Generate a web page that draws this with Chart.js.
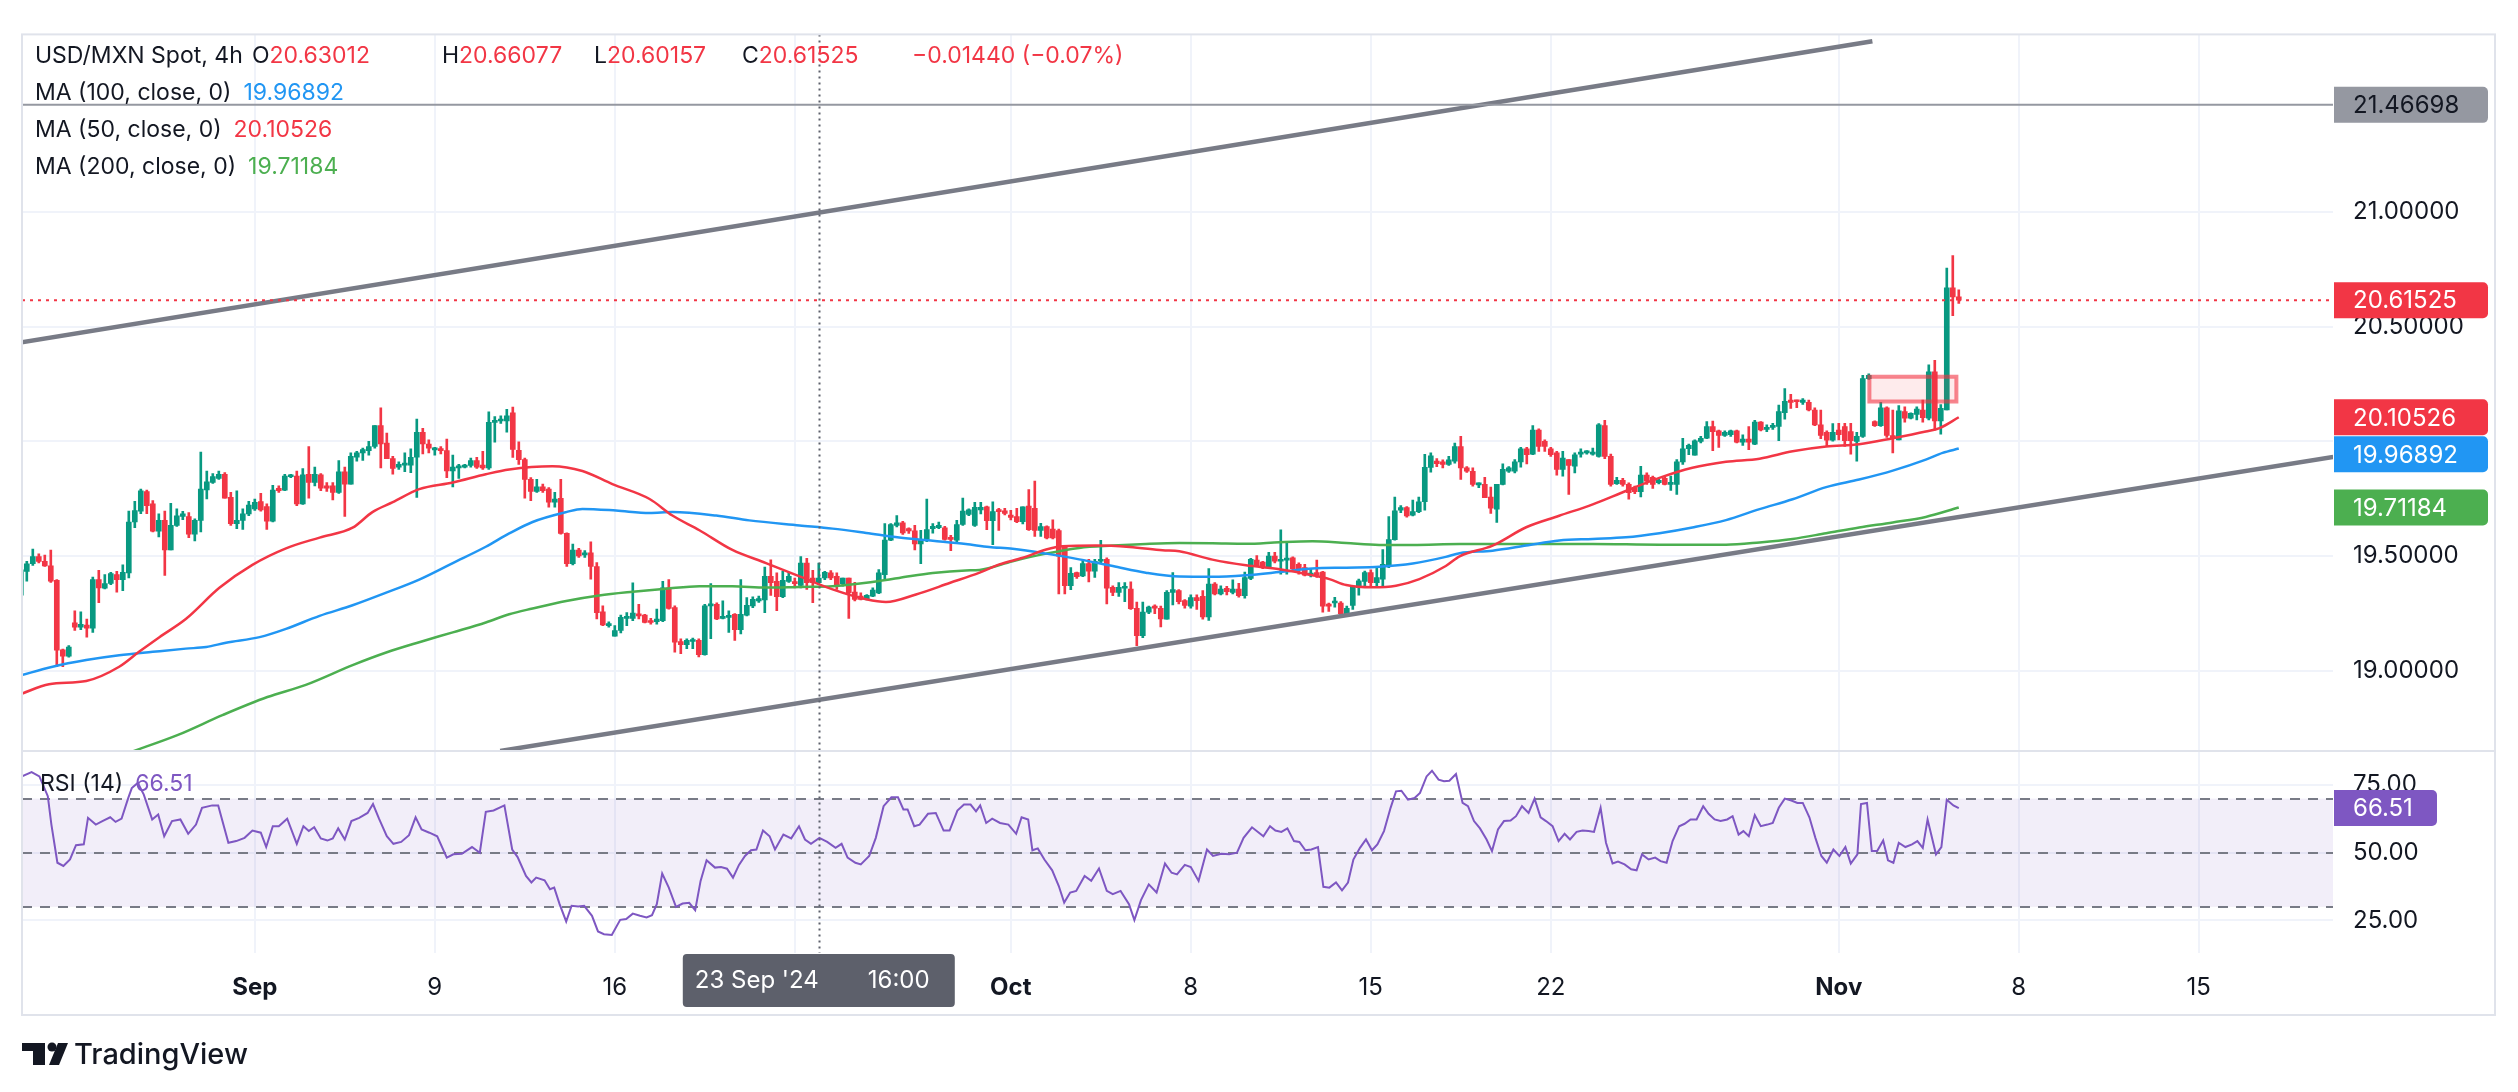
<!DOCTYPE html>
<html>
<head>
<meta charset="utf-8">
<script src="https://cdn.jsdelivr.net/npm/chart.js@4.4.1/dist/chart.umd.min.js"></script>
<style>
  html, body { margin: 0; padding: 0; background: #ffffff; }
  #wrap { position: relative; width: 2518px; height: 1092px; }
  canvas { display: block; }
</style>
</head>
<body>
<div id="wrap"><canvas id="chart" width="2518" height="1092"></canvas></div>
<script>
// USD/MXN 4h candles, bar index 0 = Mon 2 Sep 2024 00:00 (weekends skipped, 6 bars a day)
const firstBar = -39;

const openP = [
  19.33,19.434,19.467,19.498,19.477,19.458,19.395,19.092,19.064,19.209,
  19.19,19.20,19.186,19.398,19.36,19.381,19.42,19.398,19.427,19.649,
  19.696,19.782,19.728,19.609,19.656,19.527,19.634,19.673,19.673,19.596,
  19.656,19.789,19.821,19.839,19.857,19.756,19.642,19.656,19.684,19.706,
  19.738,19.716,19.653,19.796,19.788,19.846,19.849,19.728,19.857,19.821,
  19.854,19.806,19.806,19.778,19.868,19.814,19.931,19.95,19.96,19.978,
  20.069,19.993,19.925,19.888,19.897,19.897,19.931,20.04,19.989,19.963,
  19.968,19.96,19.871,19.885,19.888,19.895,19.917,19.897,19.885,20.083,
  20.089,20.089,20.125,19.961,19.921,19.835,19.782,19.802,19.792,19.735,
  19.752,19.599,19.467,19.527,19.505,19.515,19.455,19.257,19.197,19.151,
  19.176,19.229,19.229,19.247,19.243,19.219,19.214,19.219,19.362,19.276,
  19.128,19.114,19.128,19.133,19.071,19.283,19.29,19.229,19.233,19.247,
  19.18,19.243,19.283,19.305,19.309,19.412,19.39,19.323,19.39,19.386,
  19.372,19.47,19.405,19.384,19.405,19.427,19.412,19.38,19.405,19.343,
  19.326,19.315,19.326,19.34,19.419,19.57,19.634,19.645,19.62,19.61,
  19.553,19.573,19.62,19.624,19.624,19.58,19.57,19.638,19.682,19.634,
  19.702,19.715,19.655,19.70,19.698,19.679,19.672,19.65,19.718,19.708,
  19.612,19.629,19.618,19.612,19.543,19.371,19.428,19.414,19.468,19.435,
  19.478,19.486,19.364,19.342,19.36,19.357,19.273,19.153,19.256,19.282,
  19.273,19.225,19.342,19.35,19.306,19.282,19.32,19.325,19.235,19.378,
  19.335,19.36,19.342,19.357,19.328,19.403,19.483,19.474,19.45,19.50,
  19.478,19.483,19.493,19.464,19.45,19.417,19.428,19.431,19.288,19.296,
  19.296,19.249,19.285,19.364,19.39,19.428,19.385,19.40,19.457,19.572,
  19.70,19.712,19.679,19.694,19.737,19.887,19.914,19.911,19.90,19.914,
  19.978,19.885,19.87,19.81,19.813,19.758,19.705,19.813,19.87,19.87,
  19.911,19.968,19.945,20.05,20.0,19.968,19.95,19.878,19.921,19.892,
  19.945,19.95,19.945,19.935,20.069,19.935,19.816,19.83,19.813,19.798,
  19.781,19.853,19.844,19.82,19.839,19.813,19.813,19.911,19.968,19.94,
  20.0,20.014,20.065,20.046,20.026,20.029,20.046,19.997,20.01,19.988,
  20.084,20.052,20.061,20.065,20.125,20.18,20.18,20.17,20.17,20.137,
  20.072,20.04,20.005,20.05,20.065,20.043,20.0,20.022,20.274,20.086,
  20.069,20.147,20.026,20.007,20.13,20.101,20.118,20.137,20.101,20.303,
  20.089,20.137,20.67,20.63012
];
const highP = [
  19.54,19.477,19.531,19.51,19.505,19.527,19.398,19.095,19.11,19.262,
  19.257,19.226,19.409,19.438,19.42,19.43,19.434,19.462,19.696,19.739,
  19.792,19.788,19.742,19.685,19.696,19.73,19.706,19.695,19.69,19.663,
  19.954,19.871,19.86,19.871,19.864,19.778,19.785,19.706,19.739,19.749,
  19.774,19.728,19.809,19.806,19.857,19.857,19.871,19.882,19.978,19.888,
  19.86,19.821,19.821,19.917,19.888,19.95,19.957,19.971,20.0,20.069,
  20.146,20.036,19.935,19.911,19.95,19.968,20.097,20.057,20.007,19.974,
  19.978,20.01,19.94,19.9,19.9,19.928,19.931,19.957,20.129,20.108,
  20.112,20.14,20.15,19.998,19.928,19.842,19.835,19.814,19.799,19.778,
  19.835,19.602,19.553,19.534,19.524,19.563,19.472,19.283,19.214,19.197,
  19.243,19.254,19.384,19.29,19.247,19.229,19.269,19.39,19.398,19.283,
  19.14,19.14,19.143,19.14,19.29,19.381,19.297,19.305,19.262,19.25,
  19.398,19.319,19.323,19.326,19.452,19.484,19.427,19.434,19.429,19.405,
  19.498,19.491,19.438,19.47,19.434,19.437,19.427,19.405,19.405,19.386,
  19.34,19.333,19.362,19.441,19.642,19.642,19.677,19.652,19.624,19.634,
  19.613,19.749,19.642,19.649,19.63,19.591,19.656,19.753,19.706,19.735,
  19.735,19.718,19.737,19.708,19.708,19.70,19.708,19.715,19.79,19.827,
  19.643,19.632,19.658,19.618,19.546,19.45,19.431,19.478,19.486,19.486,
  19.569,19.493,19.371,19.385,19.385,19.388,19.30,19.30,19.282,19.288,
  19.282,19.35,19.428,19.354,19.311,19.331,19.331,19.35,19.446,19.385,
  19.371,19.368,19.397,19.382,19.431,19.491,19.503,19.478,19.517,19.517,
  19.615,19.56,19.497,19.471,19.464,19.446,19.483,19.434,19.296,19.321,
  19.302,19.282,19.371,19.40,19.435,19.44,19.45,19.529,19.672,19.758,
  19.72,19.716,19.744,19.758,19.944,19.95,19.925,19.92,19.935,19.993,
  20.022,19.89,19.885,19.82,19.844,19.801,19.813,19.902,19.89,19.921,
  19.974,19.974,20.069,20.055,20.007,19.974,19.957,19.957,19.921,19.95,
  19.968,19.96,19.971,20.078,20.092,19.945,19.844,19.839,19.82,19.805,
  19.892,19.863,19.849,19.835,19.844,19.849,19.921,20.014,19.988,20.007,
  20.022,20.086,20.089,20.05,20.046,20.05,20.05,20.029,20.065,20.092,
  20.086,20.072,20.079,20.159,20.23,20.205,20.18,20.187,20.18,20.147,
  20.137,20.046,20.078,20.079,20.079,20.079,20.04,20.288,20.295,20.09,
  20.17,20.151,20.137,20.156,20.151,20.125,20.151,20.18,20.334,20.353,
  20.161,20.756,20.81,20.66077
];
const lowP = [
  19.31,19.391,19.46,19.47,19.455,19.386,19.018,19.018,19.06,19.176,
  19.18,19.147,19.168,19.297,19.357,19.376,19.343,19.35,19.405,19.624,
  19.685,19.685,19.606,19.584,19.416,19.527,19.63,19.659,19.581,19.566,
  19.606,19.749,19.817,19.835,19.753,19.634,19.62,19.616,19.677,19.699,
  19.696,19.616,19.649,19.778,19.785,19.842,19.72,19.725,19.753,19.806,
  19.785,19.782,19.745,19.773,19.673,19.814,19.914,19.917,19.94,19.971,
  19.885,19.925,19.857,19.878,19.868,19.864,19.756,19.946,19.95,19.94,
  19.946,19.842,19.802,19.839,19.885,19.888,19.882,19.878,19.878,19.997,
  20.079,20.04,19.93,19.90,19.753,19.742,19.778,19.778,19.713,19.713,
  19.596,19.455,19.462,19.495,19.495,19.40,19.226,19.197,19.19,19.151,
  19.166,19.197,19.219,19.226,19.209,19.204,19.204,19.214,19.269,19.082,
  19.075,19.097,19.097,19.061,19.068,19.14,19.223,19.226,19.168,19.133,
  19.161,19.24,19.276,19.298,19.254,19.329,19.262,19.319,19.386,19.362,
  19.362,19.355,19.297,19.376,19.398,19.398,19.355,19.369,19.229,19.305,
  19.309,19.309,19.323,19.337,19.398,19.567,19.627,19.595,19.599,19.527,
  19.467,19.563,19.60,19.62,19.57,19.524,19.563,19.634,19.677,19.63,
  19.684,19.615,19.55,19.612,19.68,19.658,19.646,19.64,19.612,19.586,
  19.586,19.575,19.575,19.335,19.335,19.354,19.403,19.411,19.388,19.407,
  19.468,19.292,19.328,19.325,19.302,19.268,19.11,19.145,19.249,19.249,
  19.192,19.225,19.288,19.292,19.273,19.273,19.268,19.225,19.22,19.331,
  19.331,19.331,19.335,19.321,19.317,19.397,19.454,19.446,19.446,19.471,
  19.421,19.421,19.44,19.421,19.414,19.41,19.407,19.256,19.259,19.278,
  19.245,19.239,19.268,19.33,19.364,19.37,19.371,19.371,19.45,19.57,
  19.69,19.67,19.675,19.69,19.70,19.866,19.89,19.885,19.895,19.905,
  19.835,19.865,19.805,19.798,19.755,19.686,19.647,19.81,19.865,19.863,
  19.888,19.902,19.942,19.957,19.957,19.935,19.853,19.849,19.769,19.863,
  19.931,19.945,19.94,19.931,19.925,19.805,19.813,19.805,19.748,19.772,
  19.758,19.813,19.795,19.815,19.81,19.787,19.769,19.90,19.942,19.94,
  19.993,20.012,19.96,19.974,20.022,20.022,19.993,19.983,19.964,19.986,
  20.046,20.043,20.052,20.003,20.097,20.144,20.147,20.161,20.133,20.069,
  20.012,19.978,20.001,20.007,19.978,19.945,19.914,20.017,20.27,20.065,
  20.065,20.017,19.95,20.007,20.084,20.098,20.094,20.084,20.094,20.05,
  20.032,20.137,20.548,20.60157
];
const closeP = [
  19.44,19.467,19.498,19.477,19.458,19.391,19.09,19.064,19.104,19.19,
  19.203,19.186,19.398,19.362,19.381,19.424,19.398,19.43,19.649,19.699,
  19.785,19.72,19.609,19.656,19.527,19.634,19.676,19.684,19.596,19.656,
  19.792,19.824,19.847,19.857,19.753,19.642,19.656,19.684,19.723,19.735,
  19.702,19.653,19.788,19.785,19.849,19.854,19.728,19.854,19.821,19.857,
  19.796,19.796,19.778,19.868,19.814,19.935,19.95,19.964,19.978,20.069,
  19.989,19.925,19.882,19.9,19.902,19.931,20.04,19.989,19.971,19.968,
  19.96,19.871,19.888,19.888,19.895,19.917,19.888,19.885,20.083,20.089,
  20.097,20.112,19.965,19.921,19.835,19.782,19.802,19.785,19.735,19.749,
  19.599,19.467,19.527,19.501,19.515,19.455,19.254,19.20,19.204,19.176,
  19.233,19.233,19.252,19.24,19.211,19.211,19.226,19.362,19.272,19.125,
  19.114,19.133,19.136,19.071,19.283,19.29,19.226,19.237,19.24,19.18,
  19.247,19.286,19.312,19.315,19.412,19.384,19.323,19.395,19.412,19.38,
  19.47,19.384,19.384,19.405,19.429,19.405,19.376,19.405,19.34,19.312,
  19.312,19.329,19.352,19.427,19.57,19.638,19.645,19.601,19.61,19.553,
  19.573,19.616,19.63,19.634,19.573,19.573,19.638,19.696,19.702,19.713,
  19.713,19.655,19.694,19.694,19.686,19.669,19.65,19.715,19.615,19.612,
  19.629,19.579,19.579,19.50,19.371,19.425,19.411,19.468,19.435,19.478,
  19.483,19.36,19.342,19.364,19.364,19.271,19.153,19.256,19.278,19.273,
  19.227,19.342,19.354,19.302,19.285,19.32,19.306,19.235,19.378,19.335,
  19.357,19.345,19.357,19.328,19.407,19.486,19.457,19.454,19.50,19.478,
  19.486,19.489,19.446,19.44,19.417,19.425,19.417,19.282,19.282,19.302,
  19.249,19.273,19.364,19.392,19.428,19.385,19.407,19.464,19.572,19.698,
  19.712,19.675,19.694,19.737,19.887,19.937,19.903,19.90,19.92,19.978,
  19.885,19.87,19.813,19.82,19.755,19.709,19.813,19.878,19.885,19.911,
  19.968,19.942,20.05,19.978,19.978,19.942,19.878,19.928,19.896,19.942,
  19.954,19.957,19.954,20.072,19.935,19.813,19.83,19.813,19.777,19.781,
  19.853,19.827,19.813,19.83,19.813,19.82,19.911,19.968,19.983,20.003,
  20.014,20.065,20.043,20.026,20.04,20.046,19.997,20.01,19.997,20.084,
  20.05,20.061,20.069,20.13,20.175,20.17,20.173,20.18,20.137,20.072,
  20.026,20.005,20.04,20.029,20.003,20.003,20.022,20.274,20.288,20.069,
  20.147,20.026,20.012,20.133,20.101,20.122,20.141,20.104,20.303,20.089,
  20.144,20.67,20.630,20.61525
];

// moving averages, [bar index, value]
const ma50Pts = [
  [-38.9,18.90],[-34.3,18.942],[-28.1,18.956],[-22.6,19.018],[-19.3,19.083],[-15.9,19.147],[-11.5,19.226],
  [-5.9,19.362],[-0.4,19.462],[5.2,19.534],[10.8,19.581],[16.3,19.624],[19.6,19.692],[23,19.735],[27.4,19.792],
  [33,19.821],[38.5,19.857],[42.4,19.878],[49.6,19.892],[54.6,19.871],[59.6,19.814],[65.8,19.749],[69.6,19.677],
  [74.1,19.613],[79.6,19.527],[85.2,19.47],[90.8,19.412],[96.3,19.355],[101.9,19.312],[105.2,19.30],[110.2,19.333],
  [115.8,19.383],[120.8,19.428],[124.1,19.464],[128,19.493],[131.9,19.529],[134.6,19.543],[140.2,19.546],
  [145.8,19.54],[151.3,19.526],[154.1,19.521],[159.6,19.485],[165.2,19.46],[170.8,19.443],[176.3,19.417],
  [179.1,19.40],[181.9,19.374],[186.3,19.364],[190.2,19.371],[194.1,19.40],[198.5,19.457],[200.8,19.499],
  [206.3,19.546],[211.9,19.626],[217.4,19.676],[223,19.726],[228.5,19.784],[234.1,19.841],[239.6,19.885],
  [245.2,19.911],[250.8,19.925],[256.3,19.957],[261.9,19.978],[267.4,19.988],[273,20.014],[278.5,20.043],
  [280.8,20.058],[284,20.10526]
];
const ma100Pts = [
  [-39.2,18.979],[-33.7,19.018],[-28.1,19.047],[-22.6,19.068],[-17,19.083],[-11.5,19.097],[-8.1,19.104],
  [-4.8,19.123],[0.8,19.147],[5.2,19.183],[10.8,19.24],[16.3,19.286],[21.9,19.341],[27.4,19.398],[33,19.47],
  [38.5,19.541],[42.4,19.599],[46.3,19.649],[51.9,19.692],[54.6,19.706],[60.2,19.699],[65.8,19.688],[69.6,19.692],
  [76.9,19.677],[82.4,19.656],[90.8,19.634],[96.3,19.62],[101.9,19.601],[107.4,19.581],[113,19.567],[118.5,19.553],
  [122.4,19.54],[126.3,19.532],[131.9,19.511],[137.4,19.486],[143,19.457],[148.5,19.428],[154.1,19.411],
  [159.6,19.41],[165.2,19.417],[170.8,19.431],[176.3,19.446],[181.9,19.45],[187.4,19.454],[193,19.468],
  [198.5,19.497],[200.8,19.513],[206.3,19.524],[211.9,19.546],[217.4,19.568],[223,19.575],[228.5,19.582],
  [234.1,19.60],[239.6,19.625],[245.2,19.657],[250.8,19.705],[256.3,19.748],[261.9,19.801],[267.4,19.834],
  [273,19.873],[278.5,19.921],[281.3,19.95],[284,19.96892]
];
const ma200Pts = [
  [-20.8,18.645],[-12.8,18.721],[-5.4,18.807],[2.1,18.886],[8.5,18.939],[16.3,19.025],[21.9,19.08],[27.4,19.125],
  [33,19.168],[38.5,19.211],[42.4,19.247],[46.3,19.272],[51.9,19.305],[57.4,19.329],[63,19.345],[68.5,19.358],
  [74.1,19.369],[79.6,19.369],[85.2,19.363],[90.8,19.366],[96.3,19.369],[101.9,19.384],[107.4,19.405],[113,19.427],
  [118.5,19.438],[120.8,19.44],[126.3,19.478],[131.9,19.511],[137.4,19.536],[143,19.546],[148.5,19.553],
  [154.1,19.557],[159.6,19.556],[165.2,19.554],[170.8,19.561],[176.3,19.565],[181.9,19.557],[187.4,19.549],
  [193,19.549],[200.8,19.553],[211.9,19.553],[223,19.553],[234.1,19.55],[245.2,19.55],[250.8,19.56],[256.3,19.575],
  [261.9,19.6],[267.4,19.625],[273,19.647],[278.5,19.671],[284,19.71184]
];

// RSI(14), [bar index, value]
const rsiPts = [
  [-38.8,78.2],[-37.2,79.8],[-35.9,78.2],[-34.5,70.9],[-33.9,60.4],[-32.9,46.3],[-31.9,45.1],[-30.8,47.5],
  [-29.8,52.8],[-28.5,53.1],[-27.8,62.9],[-26.5,60.4],[-25.4,61.7],[-24.1,63.1],[-23.2,61.4],[-22.2,62.6],
  [-21.1,70.2],[-20.5,73.9],[-19.5,75.8],[-18.5,71.5],[-17.1,62.3],[-16.1,64.1],[-15.1,56.1],[-13.8,61.7],
  [-12.4,62.3],[-11.1,57.0],[-9.8,60.4],[-8.8,66.6],[-7.1,67.5],[-6.1,67.5],[-4.4,53.7],[-3.1,54.3],
  [-1.7,55.5],[-0.4,58.2],[1.0,57.4],[1.9,52.1],[3.0,59.8],[4.0,59.8],[5.4,62.6],[7.0,53.3],
  [8.1,59.8],[9.0,58.0],[9.9,59.4],[11.0,55.3],[12.1,54.5],[13.0,55.3],[13.9,59.0],[15.0,54.9],
  [16.1,61.7],[17.4,62.9],[18.8,64.7],[19.7,68.0],[20.7,62.6],[22.0,56.1],[23.1,53.3],[24.4,54.0],
  [25.7,56.5],[26.8,63.1],[27.8,58.6],[29.1,57.4],[30.4,56.1],[32.0,48.2],[33.1,49.4],[34.5,49.6],
  [36.2,52.1],[37.5,50.0],[38.5,65.1],[39.8,65.6],[41.6,67.5],[42.9,51.2],[43.8,48.4],[45.2,41.4],
  [46.1,39.0],[46.9,40.8],[48.3,39.8],[49.2,36.5],[49.9,37.1],[50.8,31.0],[51.9,24.6],[52.8,30.4],
  [53.9,30.1],[54.9,30.4],[56.2,26.7],[57.2,20.9],[58.2,19.9],[59.5,19.6],[60.9,25.2],[61.9,25.5],
  [63.0,27.5],[64.2,26.7],[65.3,26.1],[66.2,26.9],[67.0,31.0],[67.9,42.3],[69.0,37.1],[70.2,30.0],
  [71.3,31.2],[72.4,31.5],[73.4,28.8],[74.3,39.6],[75.3,47.2],[76.7,44.5],[77.7,44.7],[78.7,44.1],
  [79.7,40.8],[80.7,45.5],[81.7,48.8],[82.7,50.9],[83.6,51.2],[84.7,58.2],[85.8,56.1],[86.7,51.2],
  [88.1,56.7],[89.4,55.3],[90.7,59.8],[91.7,54.9],[92.7,53.3],[94.1,55.5],[95.4,54.0],[96.8,51.8],
  [97.8,53.3],[98.8,48.2],[100.1,46.3],[101.0,45.7],[102.4,48.8],[103.5,55.5],[104.8,67.2],[106.1,70.5],
  [107.2,70.5],[108.1,66.0],[108.8,66.0],[109.9,59.8],[110.8,60.4],[112.2,64.4],[113.5,64.7],[114.8,58.2],
  [115.8,58.2],[117.1,65.6],[118.2,67.8],[119.3,67.8],[120.2,65.3],[120.9,67.5],[121.9,61.0],[122.9,62.6],
  [124.2,61.0],[125.6,60.4],[126.9,57.0],[127.8,63.1],[128.9,62.3],[129.6,50.9],[130.5,51.6],[131.6,47.5],
  [132.9,43.5],[134.0,37.7],[134.9,31.6],[135.9,35.3],[136.9,35.9],[138.3,41.4],[139.4,39.6],[140.7,44.2],
  [142.0,35.9],[143.0,34.7],[144.3,35.9],[145.7,31.0],[146.6,25.1],[147.7,32.5],[149.0,38.3],[150.3,35.3],
  [151.7,46.0],[152.8,42.6],[153.7,42.0],[155.0,45.5],[156.0,44.7],[157.3,39.6],[158.7,51.2],[159.7,48.8],
  [161.1,49.6],[162.4,49.4],[163.7,50.0],[164.8,55.5],[166.2,59.4],[168.1,56.1],[169.2,59.8],[170.1,58.2],
  [171.1,57.7],[172.1,59.0],[173.2,54.3],[174.1,54.0],[175.1,50.9],[176.1,51.2],[177.2,52.1],[178.1,37.4],
  [179.1,37.1],[180.2,39.0],[181.2,36.1],[182.2,39.0],[183.1,47.5],[184.2,51.8],[185.2,54.9],[186.2,50.9],
  [187.1,53.1],[188.2,58.0],[189.3,66.6],[190.2,72.7],[191.1,72.9],[192.2,69.6],[193.3,70.2],[194.2,72.1],
  [195.3,78.2],[196.2,80.3],[197.3,77.0],[198.2,76.4],[199.1,76.6],[200.2,79.1],[201.3,68.4],[202.2,67.2],
  [203.2,61.7],[204.2,59.0],[205.3,54.9],[206.2,50.6],[207.2,58.6],[208.2,61.7],[209.3,61.9],[210.2,63.5],
  [211.2,67.2],[212.3,64.7],[213.3,70.0],[214.3,63.1],[215.2,61.7],[216.3,59.8],[217.3,54.3],[218.3,57.0],
  [219.2,54.9],[220.3,57.7],[221.3,58.2],[222.3,58.0],[223.2,57.7],[224.3,66.6],[225.2,53.7],[226.3,46.0],
  [227.2,46.7],[228.3,45.7],[229.4,43.9],[230.3,43.5],[231.2,49.4],[232.3,47.5],[233.4,48.2],[234.3,46.9],
  [235.3,46.3],[236.3,54.3],[237.4,59.8],[238.3,60.7],[239.3,62.3],[240.3,62.3],[241.4,67.2],[242.3,64.4],
  [243.3,62.3],[244.3,61.7],[245.4,62.3],[246.3,63.5],[247.3,56.7],[248.1,58.0],[249.0,56.1],[250.0,63.9],
  [251.0,59.8],[252.1,60.4],[253.0,61.0],[254.0,66.6],[255.0,70.0],[256.1,69.3],[257.1,68.4],[258.0,68.4],
  [259.1,63.1],[260.1,55.5],[261.1,48.8],[262.0,46.3],[263.1,51.2],[264.1,48.8],[265.1,52.1],[266.0,46.0],
  [267.1,49.4],[267.7,68.0],[268.7,68.4],[269.5,50.6],[270.4,50.6],[271.4,54.5],[272.2,47.2],[273.1,46.3],
  [274.0,53.7],[275.1,52.1],[276.2,53.1],[277.1,54.3],[278.0,51.8],[278.8,62.3],[280.2,49.4],[281.1,52.1],
  [282.0,69.6],[283.1,67.5],[284.0,66.51]
];

// drawings
const upperLine = [[-38.9, 20.432], [269.6, 21.744]];
const lowerLine = [[40.9, 18.651], [346.4, 19.932]];
const levelLine = 21.46698;
const zoneBars = [269.1, 283.6];
const zonePrice = [20.174, 20.282];
const crossAt = 94;

// axes
const xRange = [-38.8, 346.37];
const priceRange = [18.652, 21.774];
const rsiRange = [12.94, 87.7];
const tickAt = [0, 30, 60, 90, 126, 156, 186, 216, 264, 294, 324];
const tickText = ['Sep', '9', '16', '23', 'Oct', '8', '15', '22', 'Nov', '8', '15'];
const monthAt = [0, 126, 264];
const priceTicks = [19.0, 19.5, 20.0, 20.5, 21.0];
const rsiTicks = [25, 50, 75];
const rsiLevels = [30, 50, 70];

const symbolName = 'USD/MXN Spot, 4h';
const changeText = '\u22120.01440 (\u22120.07%)';
const crossText = ["23 Sep '24", '16:00'];
const maLast = { 50: 20.10526, 100: 19.96892, 200: 19.71184 };
const rsiLast = 66.51;

const FONT = 'Inter, "Noto Sans", "Liberation Sans", sans-serif';
const DARK = '#131722', RED = '#f23645', GREEN = '#089981', BLUE = '#2196f3', MGREEN = '#4caf50', PURPLE = '#7e57c2';
const GRID = '#f0f3fa', FRAME = '#e0e3eb', LINE = '#787b86';

const bars = openP.map((_, k) => firstBar + k);
const candleColor = closeP.map((c, k) => c >= openP[k] ? GREEN : RED);
const pts = arr => arr.map(p => ({ x: p[0], y: p[1] }));

function txt(ctx, s, x, y, color) {
  ctx.fillStyle = color;
  ctx.fillText(s, x, y);
  return x + ctx.measureText(s).width;
}

function tag(ctx, x, cy, w, bg, fg, s) {
  ctx.fillStyle = bg;
  ctx.beginPath();
  ctx.roundRect(x, cy - 18, w, 36, [0, 5, 5, 0]);
  ctx.fill();
  ctx.fillStyle = fg;
  ctx.textAlign = 'left';
  ctx.textBaseline = 'middle';
  ctx.fillText(s, x + 19, cy + 1);
}

const overlay = {
  id: 'overlay',
  beforeDatasetsDraw(chart) {
    const { ctx, chartArea: a, scales: { yRsi } } = chart;
    const t = yRsi.getPixelForValue(rsiLevels[2]);
    const b = yRsi.getPixelForValue(rsiLevels[0]);
    ctx.save();
    ctx.fillStyle = 'rgba(126, 87, 194, 0.1)';
    ctx.fillRect(a.left, t, a.right - a.left, b - t);
    ctx.strokeStyle = LINE;
    ctx.lineWidth = 2;
    ctx.setLineDash([10, 8]);
    rsiLevels.forEach(l => {
      const y = Math.round(yRsi.getPixelForValue(l));
      ctx.beginPath(); ctx.moveTo(a.left, y); ctx.lineTo(a.right, y); ctx.stroke();
    });
    ctx.restore();
  },
  afterDatasetsDraw(chart) {
    const { ctx, chartArea: a, scales: { x, y } } = chart;
    ctx.save();
    // zone rectangle
    const x0 = x.getPixelForValue(zoneBars[0]), x1 = x.getPixelForValue(zoneBars[1]);
    const y0 = y.getPixelForValue(zonePrice[1]), y1 = y.getPixelForValue(zonePrice[0]);
    ctx.fillStyle = 'rgba(242, 54, 69, 0.1)';
    ctx.fillRect(x0, y0, x1 - x0, y1 - y0);
    ctx.strokeStyle = 'rgba(242, 54, 69, 0.6)';
    ctx.lineWidth = 4;
    ctx.strokeRect(x0, y0, x1 - x0, y1 - y0);
    // crosshair
    const cx = Math.round(x.getPixelForValue(crossAt)) + 0.5;
    ctx.strokeStyle = '#5d606b';
    ctx.lineWidth = 2;
    ctx.setLineDash([2, 4]);
    ctx.beginPath(); ctx.moveTo(cx, a.top); ctx.lineTo(cx, a.bottom); ctx.stroke();
    ctx.restore();
  },
  afterDraw(chart) {
    const { ctx, chartArea: a, scales: { x, y, yRsi } } = chart;
    ctx.save();
    // frame and pane separator
    ctx.strokeStyle = FRAME;
    ctx.lineWidth = 2;
    ctx.strokeRect(a.left, a.top, 2495 - a.left, 1015 - a.top);
    const sep = Math.round(yRsi.top);
    ctx.beginPath(); ctx.moveTo(a.left, sep); ctx.lineTo(2495, sep); ctx.stroke();

    // legend
    ctx.font = `23px ${FONT}`;
    ctx.textAlign = 'left';
    ctx.textBaseline = 'middle';
    txt(ctx, symbolName, 35, 56, DARK);
    const n = openP.length - 1;
    const ohlc = [['O', openP[n], 252], ['H', highP[n], 442], ['L', lowP[n], 594], ['C', closeP[n], 742]];
    ohlc.forEach(([k, v, px]) => {
      const xx = txt(ctx, k, px, 56, DARK);
      txt(ctx, v.toFixed(5), xx, 56, RED);
    });
    txt(ctx, changeText, 912, 56, RED);
    const maRows = [['MA (100, close, 0)', maLast[100], BLUE, 93],
                    ['MA (50, close, 0)', maLast[50], RED, 130],
                    ['MA (200, close, 0)', maLast[200], MGREEN, 167]];
    maRows.forEach(([label, v, col, yy]) => {
      const xx = txt(ctx, label, 35, yy, DARK);
      txt(ctx, v.toFixed(5), xx + 12, yy, col);
    });
    const rx = txt(ctx, 'RSI (14)', 40, 784, DARK);
    txt(ctx, rsiLast.toFixed(2), rx + 12, 784, PURPLE);

    // price scale tags
    ctx.font = `24px ${FONT}`;
    const tags = [
      [levelLine, '#9598a1', DARK],
      [closeP[n], RED, '#ffffff'],
      [maLast[50], RED, '#ffffff'],
      [maLast[100], BLUE, '#ffffff'],
      [maLast[200], MGREEN, '#ffffff']
    ].map(t => ({ v: t[0], bg: t[1], fg: t[2], cy: y.getPixelForValue(t[0]) }))
     .sort((p, q) => p.cy - q.cy);
    let last = -1e9;
    tags.forEach(t => {
      t.cy = Math.max(t.cy, last + 37);
      last = t.cy;
      tag(ctx, a.right + 1, t.cy, 154, t.bg, t.fg, t.v.toFixed(5));
    });
    tag(ctx, a.right + 1, yRsi.getPixelForValue(rsiLast), 103, PURPLE, '#ffffff', rsiLast.toFixed(2));

    // crosshair time label
    const cx = x.getPixelForValue(crossAt);
    ctx.fillStyle = '#5d606b';
    ctx.beginPath();
    ctx.roundRect(cx - 136, a.bottom + 1, 272, 53, 4);
    ctx.fill();
    ctx.fillStyle = '#ffffff';
    ctx.textBaseline = 'middle';
    ctx.fillText(crossText[0], cx - 124, a.bottom + 28);
    ctx.fillText(crossText[1], cx + 49, a.bottom + 28);

    // TradingView logo
    ctx.fillStyle = DARK;
    ctx.fillRect(22, 1043, 23, 8);
    ctx.fillRect(33, 1043, 12, 22);
    ctx.beginPath(); ctx.arc(52, 1047, 4.5, 0, Math.PI * 2); ctx.fill();
    ctx.beginPath();
    ctx.moveTo(58, 1043); ctx.lineTo(68, 1043); ctx.lineTo(59, 1065); ctx.lineTo(49, 1065);
    ctx.closePath(); ctx.fill();
    ctx.font = `500 29px ${FONT}`;
    ctx.fillText('TradingView', 74, 1055);
    ctx.restore();
  }
};

new Chart(document.getElementById('chart'), {
  type: 'bar',
  data: {
    datasets: [
      {
        type: 'line', label: 'level', yAxisID: 'y', order: 1,
        data: [{ x: xRange[0], y: levelLine }, { x: xRange[1], y: levelLine }],
        borderColor: '#9598a1', borderWidth: 2, pointRadius: 0
      },
      {
        type: 'line', label: 'last', yAxisID: 'y', order: 1,
        data: [{ x: xRange[0], y: closeP[closeP.length - 1] }, { x: xRange[1], y: closeP[closeP.length - 1] }],
        borderColor: RED, borderWidth: 2, borderDash: [3, 5], pointRadius: 0
      },
      {
        type: 'line', label: 'upper', yAxisID: 'y', order: 1,
        data: pts(upperLine), borderColor: LINE, borderWidth: 4.5, pointRadius: 0
      },
      {
        type: 'line', label: 'lower', yAxisID: 'y', order: 1,
        data: pts(lowerLine), borderColor: LINE, borderWidth: 4.5, pointRadius: 0
      },
      {
        type: 'line', label: 'MA50', yAxisID: 'y', order: 3,
        data: pts(ma50Pts), borderColor: RED, borderWidth: 2.5, pointRadius: 0, cubicInterpolationMode: 'monotone'
      },
      {
        type: 'line', label: 'MA100', yAxisID: 'y', order: 3,
        data: pts(ma100Pts), borderColor: BLUE, borderWidth: 2.5, pointRadius: 0, cubicInterpolationMode: 'monotone'
      },
      {
        type: 'line', label: 'MA200', yAxisID: 'y', order: 3,
        data: pts(ma200Pts), borderColor: MGREEN, borderWidth: 2.5, pointRadius: 0, cubicInterpolationMode: 'monotone'
      },
      {
        type: 'bar', label: 'body', yAxisID: 'y', order: 5, grouped: false,
        data: bars.map((b, k) => ({ x: b, y: [openP[k], closeP[k]] })),
        backgroundColor: candleColor, barThickness: 5, minBarLength: 2, borderWidth: 0
      },
      {
        type: 'bar', label: 'wick', yAxisID: 'y', order: 6, grouped: false,
        data: bars.map((b, k) => ({ x: b, y: [lowP[k], highP[k]] })),
        backgroundColor: candleColor, barThickness: 2, borderWidth: 0
      },
      {
        type: 'line', label: 'RSI', yAxisID: 'yRsi', order: 2,
        data: pts(rsiPts), borderColor: PURPLE, borderWidth: 2, pointRadius: 0, tension: 0
      }
    ]
  },
  options: {
    responsive: false,
    animation: false,
    devicePixelRatio: 1,
    events: [],
    layout: { padding: { left: 22, top: 22, right: 0, bottom: 77 } },
    plugins: { legend: { display: false }, tooltip: { enabled: false } },
    scales: {
      x: {
        type: 'linear', position: 'bottom', min: xRange[0], max: xRange[1], offset: false,
        afterFit(s) { s.height = 62; },
        afterBuildTicks(s) { s.ticks = tickAt.map(v => ({ value: v })); },
        grid: { color: GRID, lineWidth: 2, drawTicks: false, offset: false },
        border: { display: false },
        ticks: {
          padding: 20, autoSkip: false, maxRotation: 0, color: DARK,
          font: c => ({ family: FONT, size: 24, weight: c.tick && monthAt.includes(c.tick.value) ? 'bold' : 'normal' }),
          callback: v => { const k = tickAt.indexOf(v); return k >= 0 ? tickText[k] : ''; }
        }
      },
      y: {
        type: 'linear', position: 'right', stack: 'panes', stackWeight: 726,
        min: priceRange[0], max: priceRange[1], beginAtZero: false,
        afterFit(s) { s.width = 185; },
        afterBuildTicks(s) { s.ticks = priceTicks.map(v => ({ value: v })); },
        grid: { color: GRID, lineWidth: 2, drawTicks: false },
        border: { display: false },
        ticks: { padding: 20, color: DARK, font: { family: FONT, size: 24 }, callback: v => v === 20 ? '' : v.toFixed(5) }
      },
      yRsi: {
        type: 'linear', position: 'right', stack: 'panes', stackWeight: 205,
        min: rsiRange[0], max: rsiRange[1], beginAtZero: false,
        afterFit(s) { s.width = 185; },
        afterBuildTicks(s) { s.ticks = rsiTicks.map(v => ({ value: v })); },
        grid: { color: GRID, lineWidth: 2, drawTicks: false },
        border: { display: false },
        ticks: { padding: 20, color: DARK, font: { family: FONT, size: 24 }, callback: v => v.toFixed(2) }
      }
    }
  },
  plugins: [overlay]
});
</script>
</body>
</html>
